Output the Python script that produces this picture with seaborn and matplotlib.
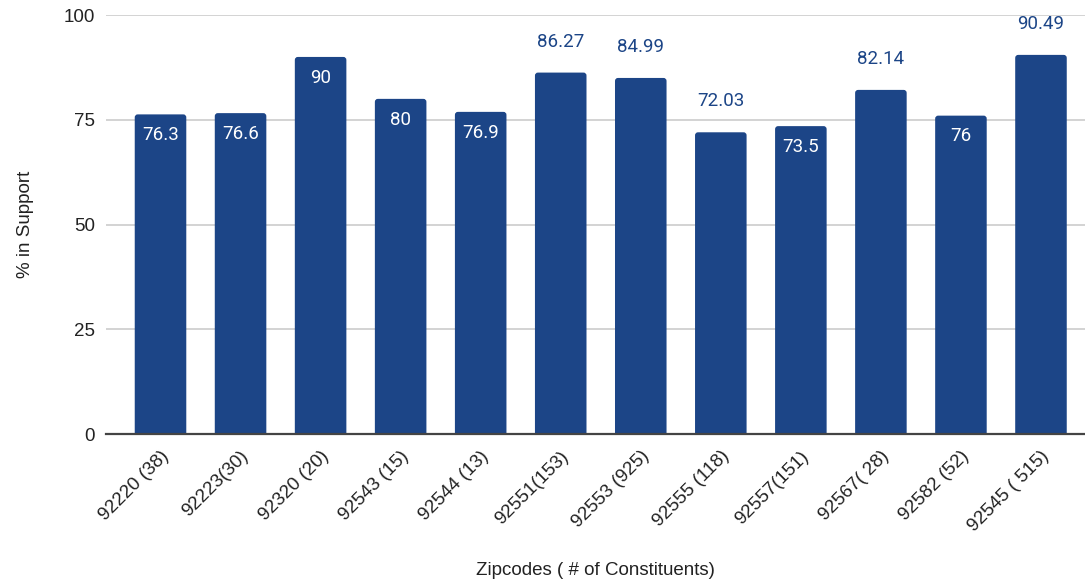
import matplotlib
matplotlib.use("Agg")
import matplotlib.pyplot as plt
import matplotlib.transforms as mtransforms
from matplotlib.patches import FancyBboxPatch
import seaborn as sns
import pandas as pd

# datos del grafico
zipcodes = ['92220 (38)', '92223(30)', '92320 (20)', '92543 (15)', '92544 (13)', '92551(153)',
            '92553 (925)', '92555 (118)', '92557(151)', '92567( 28)', '92582 (52)', '92545 ( 515)']
support = [76.3, 76.6, 90, 80, 76.9, 86.27, 84.99, 72.03, 73.5, 82.14, 76, 90.49]

df = pd.DataFrame({'zip': zipcodes, 'support': support})

bar_color = '#1c4587'
roboto = ['Roboto', 'DejaVu Sans']

sns.set_style('white')
plt.rcParams['font.family'] = ['Liberation Sans', 'DejaVu Sans']

fig = plt.figure(figsize=(10.85, 5.84), dpi=100)
ax = fig.add_axes([0.0977, 0.2563, 0.9023, 0.718])

sns.barplot(data=df, x='zip', y='support', color=bar_color, width=0.644,
            saturation=1, ax=ax, zorder=3)

ax.set_ylim(0, 100)
ax.set_xlim(-0.681, 11.55)

# esquinas redondeadas en la parte superior de las barras
px_x = 979 / (11.55 + 0.681)
px_y = 419.3 / 100
for p in list(ax.patches):
    x0, w, h = p.get_x(), p.get_width(), p.get_height()
    r = 3.0 / px_x
    rb = FancyBboxPatch((x0, -2), w, h + 2, boxstyle=f'round,pad=0,rounding_size={r}',
                        mutation_aspect=px_x / px_y, facecolor=bar_color,
                        edgecolor='none', zorder=3, clip_on=True)
    p.remove()
    ax.add_patch(rb)

ax.set_yticks([0, 25, 50, 75, 100])
ax.grid(axis='y', color='#cccccc', linewidth=1.2, zorder=0)
ax.set_axisbelow(True)
for s in ['top', 'right', 'left']:
    ax.spines[s].set_visible(False)
ax.spines['bottom'].set_color('#444444')
ax.spines['bottom'].set_linewidth(1.6)
ax.spines['bottom'].set_zorder(4)

ax.tick_params(axis='y', length=0, pad=8, labelsize=13.5, labelcolor='#222222')
ax.tick_params(axis='x', length=0, pad=14, labelsize=13.5, labelcolor='#222222')
shift = mtransforms.ScaledTranslation(0.055, 0, fig.dpi_scale_trans)
for t in ax.get_xticklabels():
    t.set_rotation(45)
    t.set_ha('right')
    t.set_va('center')
    t.set_rotation_mode('anchor')
    t.set_transform(t.get_transform() + shift)

ax.set_xlabel('Zipcodes ( # of Constituents)', fontsize=13.5, color='#222222')
ax.xaxis.set_label_coords(0.5, -0.305)
ax.set_ylabel('% in Support', fontsize=13.5, color='#222222')
ax.yaxis.set_label_coords(-0.074, 0.5)

# etiquetas de valores
for i, v in enumerate(support):
    txt = f'{v:g}'
    dec = len(txt.split('.')[1]) if '.' in txt else 0
    if dec <= 1:
        ax.annotate(txt, (i, v), xytext=(0, -14.9), textcoords='offset points',
                    ha='center', va='center', color='white', fontsize=13.5,
                    family=roboto, zorder=5)
    else:
        ax.annotate(txt, (i, v), xytext=(0, 22.3), textcoords='offset points',
                    ha='center', va='center', color=bar_color, fontsize=13.5,
                    family=roboto, zorder=5, annotation_clip=False)

fig.savefig('out.png', dpi=100)
